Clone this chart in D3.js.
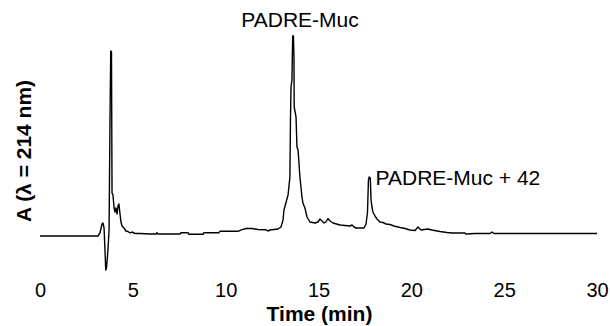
<!DOCTYPE html>
<html>
<head>
<meta charset="utf-8">
<script src="https://cdn.jsdelivr.net/npm/d3@7"></script>
<style>
  body { margin: 0; background: #fff; }
  text { font-family: "Liberation Sans", Arial, sans-serif; fill: #000; }
</style>
</head>
<body>
<svg id="chart" width="610" height="326"></svg>
<script>
// retention time (min)
var timeMin = [0, 3.12, 3.23, 3.34, 3.39, 3.45, 3.50, 3.54, 3.58, 3.61, 3.66, 3.72, 3.77, 3.81, 3.85, 3.88,
    3.93, 3.99, 4.04, 4.09, 4.15, 4.20, 4.25, 4.31, 4.36, 4.42, 4.52, 4.63, 4.74, 4.85, 4.95, 5.12,
    5.39, 5.92, 6.25, 6.30, 6.36, 7.54, 7.59, 7.97, 8.02, 8.78, 8.83, 9.64, 9.69, 10.66, 10.88, 11.10,
    11.42, 11.74, 12.17, 12.28, 12.39, 12.82, 12.98, 13.09, 13.14, 13.36, 13.46, 13.49, 13.52, 13.57,
    13.61, 13.65, 13.68, 13.69, 13.79, 13.84, 13.90, 14.00, 14.11, 14.16, 14.27, 14.38, 14.54, 14.81,
    14.97, 15.08, 15.19, 15.30, 15.40, 15.51, 15.62, 15.78, 16.16, 16.70, 16.81, 16.91, 17.02, 17.45,
    17.56, 17.64, 17.69, 17.73, 17.79, 17.83, 17.88, 17.93, 18.04, 18.15, 18.31, 18.47, 18.64, 18.85,
    19.07, 19.39, 19.66, 19.93, 20.2, 20.36, 20.52, 20.68, 20.90, 21.11, 21.54, 21.92, 22.19, 22.89,
    22.94, 23.43, 24.24, 24.34, 24.45, 30.0];
// absorbance, arbitrary units (main peak ~ 100)
var absorb = [0, 0, 1.5, 6, 6.5, 4, -7, -17, -16, -13, -7, 3, 58, 92.5, 92, 21.5,
    20.5, 14, 12, 14, 11, 15, 16, 11, 7, 5, 4, 2.5, 2.25, 1.5, 2, 1.25,
    1.25, 1, 1, 1.65, 1, 1, 1.65, 1.65, 0.85, 0.85, 1.65, 1.65, 2.35, 2.35, 3.15, 3.75,
    3.75, 3.25, 3.1, 2.5, 3, 3.5, 4.5, 8, 13, 20.5, 29.5, 58, 74.5, 78,
    100, 100, 89, 64.5, 59.5, 44.5, 43, 29.5, 19.5, 16.5, 14, 9.5, 7, 6.5,
    7, 8.5, 7.5, 6.5, 7, 8.75, 7.5, 6.5, 5.5, 5, 5.5, 4.5, 4, 4,
    6, 12, 28, 29.5, 29, 18, 14.5, 12, 10, 8.5, 7, 6.75, 6, 5.75,
    5, 4.25, 3.75, 3, 2.75, 4.5, 3, 3.25, 3.5, 3, 2.25, 1.75, 1.5, 1.5,
    1, 1.25, 1.25, 2, 1.25, 1.25];

var xTicks = [0, 5, 10, 15, 20, 25, 30];
var peakLabels = ["PADRE-Muc", "PADRE-Muc + 42"];
var peakTimes = [13.63, 17.75];
var peakAbs = [100, 29.5];

var svg = d3.select("#chart");

var x = d3.scaleLinear()
    .domain([0, 30])
    .range([40, 597]);

var y = d3.scaleLinear()
    .domain([0, 100])
    .range([236, 36]);

var points = timeMin.map(function(t, i) { return [t, absorb[i]]; });

var line = d3.line()
    .x(function(d) { return x(d[0]); })
    .y(function(d) { return y(d[1]); });

svg.append("path")
    .datum(points)
    .attr("d", line)
    .attr("fill", "none")
    .attr("stroke", "#000")
    .attr("stroke-width", 1.4)
    .attr("stroke-linejoin", "round");

// x axis: labels only, no line or ticks
var xAxis = svg.append("g")
    .attr("transform", "translate(0,283)")
    .call(d3.axisBottom(x).tickValues(xTicks).tickSize(0).tickPadding(0));

xAxis.select(".domain").remove();
xAxis.selectAll("text")
    .attr("dy", "0.71em")
    .style("font-size", "20px")
    .style("font-family", "Liberation Sans, Arial, sans-serif");

svg.append("text")
    .attr("x", x(15) + 1)
    .attr("y", 321)
    .attr("text-anchor", "middle")
    .style("font-size", "21px")
    .style("font-weight", "bold")
    .text("Time (min)");

svg.append("text")
    .attr("transform", "translate(31,151) rotate(-90)")
    .attr("text-anchor", "middle")
    .style("font-size", "21px")
    .style("font-weight", "bold")
    .text("A (λ = 214 nm)");

// peak annotations
svg.append("text")
    .attr("x", x(peakTimes[0]) + 7)
    .attr("y", y(peakAbs[0]) - 9)
    .attr("text-anchor", "middle")
    .style("font-size", "21px")
    .text(peakLabels[0]);

svg.append("text")
    .attr("x", x(peakTimes[1]) + 6)
    .attr("y", y(peakAbs[1]) + 8)
    .style("font-size", "21px")
    .text(peakLabels[1]);
</script>
</body>
</html>
